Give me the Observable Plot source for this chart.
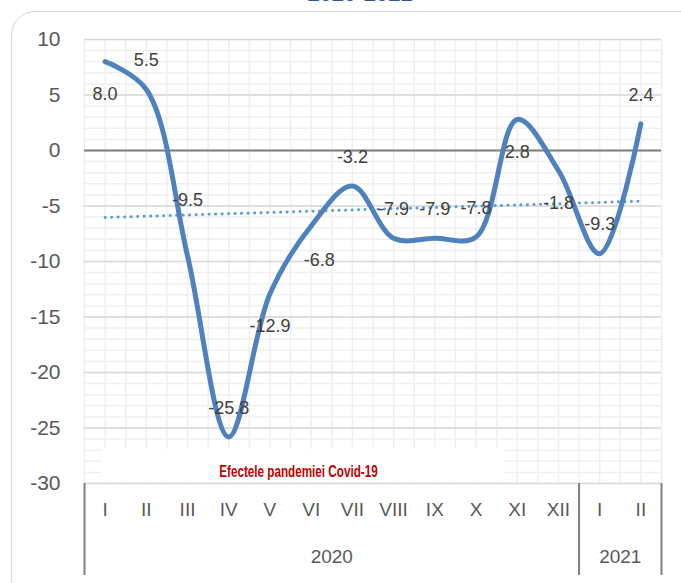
<!DOCTYPE html>
<html>
<head>
<meta charset="utf-8">
<script src="https://cdn.jsdelivr.net/npm/d3@7"></script>
<script src="https://cdn.jsdelivr.net/npm/@observablehq/plot@0.6"></script>
<style>
  body { margin: 0; background: white; }
  #wrap { position: relative; width: 681px; height: 583px; overflow: hidden; background: white; }
  #title { position: absolute; left: 240px; width: 240px; top: -18px; text-align: center;
           font: bold 22px/24px 'Liberation Sans', Arial, sans-serif; color: #2F5597; }
  #chart { position: absolute; left: 0; top: 0; }
  #note { position: absolute; left: 102px; top: 449px; width: 403px; height: 33px; background: white;
          text-align: center; box-sizing: border-box; padding-top: 13px; line-height: 20px;
          font: bold 16px/20px 'Liberation Sans', Arial, sans-serif; color: #C00000; }
  #note span { display: inline-block; transform: scaleX(0.73); transform-origin: 50% 50%; margin-left: -10px; }
  #border { position: absolute; left: 11px; top: 11px; width: 690px; height: 600px;
            border: 1.5px solid #d4d4d4; border-radius: 24px; pointer-events: none; }
</style>
</head>
<body>
<div id="wrap">
  <div id="title">2020-2021</div>
  <div id="chart"></div>
  <div id="note"><span>Efectele pandemiei Covid-19</span></div>
  <div id="border"></div>
</div>
<script>
const months = ["I","II","III","IV","V","VI","VII","VIII","IX","X","XI","XII","I","II"];
const years  = ["2020","2020","2020","2020","2020","2020","2020","2020","2020","2020","2020","2020","2021","2021"];
const values = [8.0, 5.5, -9.5, -25.8, -12.9, -6.8, -3.2, -7.9, -7.9, -7.8, 2.8, -1.8, -9.3, 2.4];
const yTicks = [-30, -25, -20, -15, -10, -5, 0, 5, 10];
const labelPlacement = ["below","above","raised","above","below","belowRight","above","above","above","above","below","below","above","above"];

const data = months.map((m, i) => ({i, month: m, year: years[i], value: values[i], place: labelPlacement[i]}));

const yearGroups = d3.groups(data, d => d.year).map(([year, rows]) => ({
  year, center: d3.mean(rows, r => r.i), start: d3.min(rows, r => r.i) - 0.5, end: d3.max(rows, r => r.i) + 0.5
}));
const separators = Array.from(new Set(yearGroups.flatMap(g => [g.start, g.end])));

const yMin = d3.min(yTicks), yMax = d3.max(yTicks);
const minorY = d3.range(yMin, yMax + 1, 1);
const minorX = d3.range(-0.5, months.length - 0.5 + 0.01, 0.5);

const labelOpts = {x: "i", y: "value", text: d => d.value.toFixed(1), fill: "#404040", fontSize: 18};

const chart = Plot.plot({
  width: 681,
  height: 583,
  marginLeft: 84,
  marginRight: 20,
  marginTop: 39,
  marginBottom: 100,
  x: {type: "linear", domain: [-0.5, months.length - 0.5], axis: null},
  y: {domain: [yMin, yMax], label: null},
  style: {fontFamily: "'Liberation Sans', Arial, sans-serif", background: "transparent", overflow: "visible"},
  marks: [
    Plot.ruleY(minorY, {stroke: "#efefef", strokeWidth: 1.5}),
    Plot.ruleX(minorX, {stroke: "#efefef", strokeWidth: 1.5}),
    Plot.ruleY(yTicks, {stroke: "#d9d9d9", strokeWidth: 1.5}),
    Plot.ruleY([0], {stroke: "#7f7f7f", strokeWidth: 2}),
    Plot.axisY(yTicks, {tickSize: 0, tickPadding: 24, fontSize: 21, fill: "#595959", label: null, tickFormat: d => String(d)}),
    Plot.linearRegressionY(data, {x: "i", y: "value", stroke: "#5B9BD5", strokeWidth: 3, strokeDasharray: "0.1 6.4", strokeLinecap: "round", ci: 0}),
    Plot.line(data, {x: "i", y: "value", curve: "catmull-rom", stroke: "#4F81BD", strokeWidth: 5, strokeLinecap: "round"}),
    Plot.text(data.filter(d => d.place === "below"), {...labelOpts, dy: 33}),
    Plot.text(data.filter(d => d.place === "belowRight"), {...labelOpts, dy: 34, dx: 8}),
    Plot.text(data.filter(d => d.place === "above"), {...labelOpts, dy: -29}),
    Plot.text(data.filter(d => d.place === "raised"), {...labelOpts, dy: -56}),
    Plot.text(data, {x: "i", text: "month", frameAnchor: "bottom", dy: 32, fontSize: 19, fill: "#595959"}),
    Plot.text(yearGroups, {x: "center", text: "year", frameAnchor: "bottom", dy: 79, fontSize: 19, fill: "#595959"}),
    Plot.ruleX(separators, {stroke: "#7f7f7f", strokeWidth: 2, insetTop: 444, insetBottom: -92})
  ]
});
document.getElementById("chart").appendChild(chart);
</script>
</body>
</html>
